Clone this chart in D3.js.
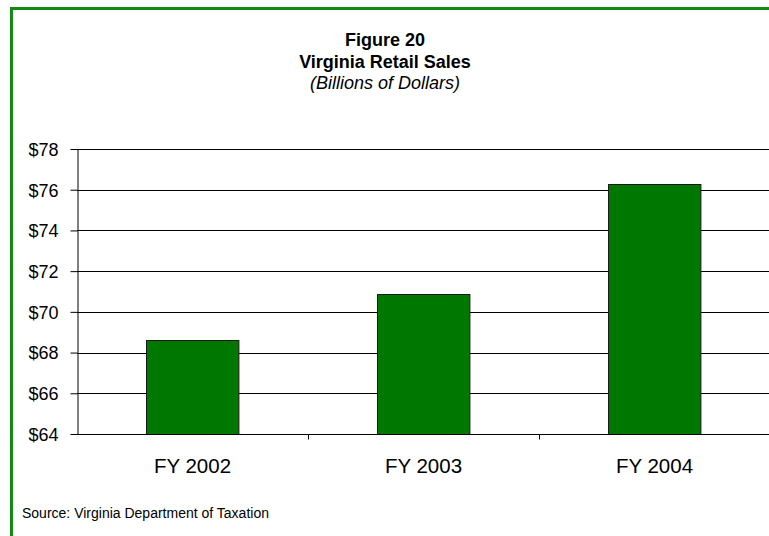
<!DOCTYPE html>
<html>
<head>
<meta charset="utf-8">
<script src="https://cdn.jsdelivr.net/npm/d3@7"></script>
<style>
  body { margin: 0; background: #fff; }
  svg { display: block; font-family: "Liberation Sans", Arial, sans-serif; }
</style>
</head>
<body>
<svg id="chart"></svg>
<script>
// Chart data
const categories = ["FY 2002", "FY 2003", "FY 2004"];
const sales = [68.6, 70.9, 76.3];
const yTicks = [64, 66, 68, 70, 72, 74, 76, 78];

const W = 769, H = 536;
const svg = d3.select("#chart").attr("width", W).attr("height", H);

const margin = {top: 149, right: -1, bottom: 102, left: 77};
const width = W - margin.left - margin.right,
      height = H - margin.top - margin.bottom;

// green frame (runs off the right and bottom edges)
svg.append("path")
  .attr("d", "M11.5," + H + "V8.5H" + W)
  .attr("fill", "none")
  .attr("stroke", "#138a13")
  .attr("stroke-width", 3);

// Titles
const title = svg.append("g").attr("text-anchor", "middle");
title.append("text").attr("x", 385).attr("y", 46)
  .style("font-size", "18px").style("font-weight", "bold").text("Figure 20");
title.append("text").attr("x", 385).attr("y", 68)
  .style("font-size", "18px").style("font-weight", "bold").text("Virginia Retail Sales");
title.append("text").attr("x", 385).attr("y", 89)
  .style("font-size", "18px").style("font-style", "italic").text("(Billions of Dollars)");

const g = svg.append("g").attr("transform", "translate(" + margin.left + "," + margin.top + ")");

const x = d3.scaleBand().domain(categories).range([0, width]).paddingInner(0.6).paddingOuter(0.3);
const xOuter = d3.scaleBand().domain(categories).range([0, width]);
const y = d3.scaleLinear().domain([64, 78]).range([height, 0]);

// gridlines
g.append("g")
  .selectAll("line")
  .data(yTicks.slice(1))
  .join("line")
  .attr("x1", 0).attr("x2", width)
  .attr("y1", d => Math.round(y(d)) + 0.5).attr("y2", d => Math.round(y(d)) + 0.5)
  .attr("stroke", "#000").attr("stroke-width", 1);

// bars
g.append("g")
  .selectAll("rect")
  .data(sales)
  .join("rect")
  .attr("x", (d, i) => Math.round(x(categories[i])) + 0.5)
  .attr("y", d => Math.round(y(d)) + 0.5)
  .attr("width", x.bandwidth())
  .attr("height", d => Math.round(y(64)) - Math.round(y(d)))
  .attr("fill", "#007800")
  .attr("stroke", "#1a1a1a")
  .attr("stroke-width", 1);

// Y axis
const yAxis = g.append("g")
  .attr("transform", "translate(0.5,0)")
  .call(d3.axisLeft(y).tickValues(yTicks).tickFormat(d => "$" + d).tickSize(7).tickSizeOuter(0))
  .style("font-size", "18px")
  .style("font-family", "Liberation Sans, Arial, sans-serif");
yAxis.select(".domain").attr("stroke", "#000");
yAxis.selectAll(".tick text").attr("fill", "#000").attr("x", -19).attr("dy", "0.35em");

// X axis
const xAxis = g.append("g")
  .attr("transform", "translate(0," + (Math.round(y(64)) + 0.5) + ")");
xAxis.append("line").attr("x1", 0).attr("x2", width).attr("stroke", "#000");
xAxis.selectAll("line.tk")
  .data(categories.slice(1))
  .join("line")
  .attr("class", "tk")
  .attr("x1", d => Math.round(xOuter(d)) + 0.5).attr("x2", d => Math.round(xOuter(d)) + 0.5)
  .attr("y1", 0).attr("y2", 5)
  .attr("stroke", "#000");
xAxis.selectAll("text")
  .data(categories)
  .join("text")
  .attr("x", d => xOuter(d) + xOuter.bandwidth() / 2)
  .attr("y", 38)
  .attr("text-anchor", "middle")
  .style("font-size", "20.5px")
  .text(d => d);

// Source
svg.append("text")
  .attr("x", 22).attr("y", 518)
  .style("font-size", "14px")
  .text("Source: Virginia Department of Taxation");
</script>
</body>
</html>
